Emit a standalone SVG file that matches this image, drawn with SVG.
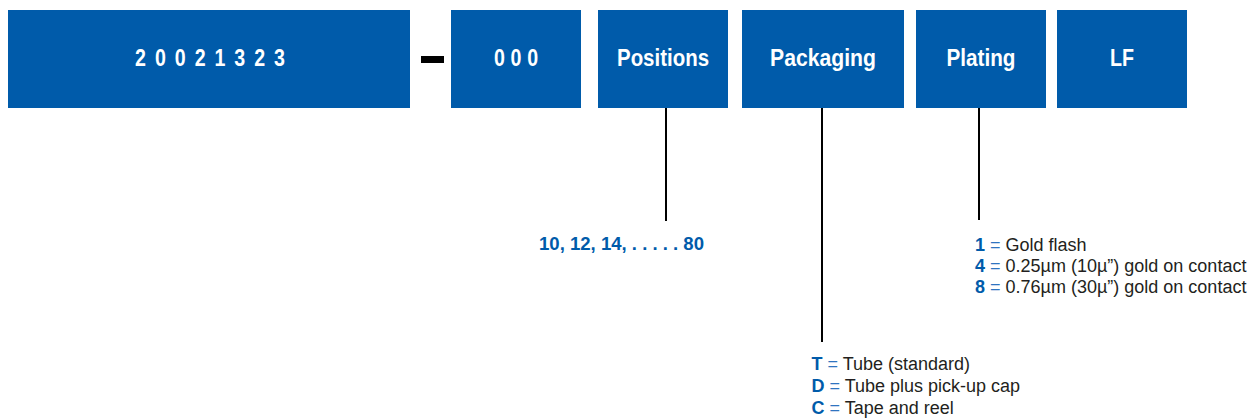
<svg xmlns="http://www.w3.org/2000/svg" width="1251" height="418" viewBox="0 0 1251 418">
  <style>
    .box { fill: #005BAA; }
    .bx { font-family: "Liberation Sans", Arial, sans-serif; font-weight: bold; font-size: 24.5px; fill: #ffffff; }
    .conn { stroke: #000000; stroke-width: 2; fill: none; }
    .lg { font-family: "Liberation Sans", Arial, sans-serif; font-size: 18px; fill: #231F20; }
    .key { font-weight: bold; fill: #005BAA; }
    .eq { fill: #2F74C0; }
    .pos { font-family: "Liberation Sans", Arial, sans-serif; font-size: 18.5px; font-weight: bold; fill: #005BAA; }
  </style>
  <g id="node-part">
    <rect class="box" x="8" y="10" width="402" height="98"/>
    <text class="bx" transform="translate(210 66) scale(0.8 1)" x="5.6" text-anchor="middle" letter-spacing="11.2">20021323</text>
  </g>
  <g id="dash">
    <rect x="421" y="56" width="23" height="7" fill="#000000"/>
  </g>
  <g id="node-000">
    <rect class="box" x="451" y="10" width="130" height="98"/>
    <text class="bx" transform="translate(516 66) scale(0.8 1)" x="3.6" text-anchor="middle" letter-spacing="7.2">000</text>
  </g>
  <g id="node-positions">
    <rect class="box" x="598" y="10" width="130" height="98"/>
    <text class="bx" x="663" y="66" text-anchor="middle" textLength="92" lengthAdjust="spacingAndGlyphs">Positions</text>
  </g>
  <g id="node-packaging">
    <rect class="box" x="742" y="10" width="162" height="98"/>
    <text class="bx" x="823" y="66" text-anchor="middle" textLength="106" lengthAdjust="spacingAndGlyphs">Packaging</text>
  </g>
  <g id="node-plating">
    <rect class="box" x="916" y="10" width="130" height="98"/>
    <text class="bx" x="981" y="66" text-anchor="middle" textLength="69" lengthAdjust="spacingAndGlyphs">Plating</text>
  </g>
  <g id="node-lf">
    <rect class="box" x="1057" y="10" width="130" height="98"/>
    <text class="bx" x="1122" y="66" text-anchor="middle" textLength="24" lengthAdjust="spacingAndGlyphs">LF</text>
  </g>
  <g id="connectors">
    <line class="conn" x1="666" y1="108" x2="666" y2="221"/>
    <line class="conn" x1="822" y1="108" x2="822" y2="342"/>
    <line class="conn" x1="979" y1="108" x2="979" y2="220"/>
  </g>
  <g id="positions-legend">
    <text class="pos" x="539" y="250" textLength="165" lengthAdjust="spacingAndGlyphs">10, 12, 14, . . . . . 80</text>
  </g>
  <g id="plating-legend">
    <text class="lg" x="975" y="251"><tspan class="key">1</tspan><tspan class="eq"> = </tspan>Gold flash</text>
    <text class="lg" x="975" y="272"><tspan class="key">4</tspan><tspan class="eq"> = </tspan>0.25µm (10µ”) gold on contact</text>
    <text class="lg" x="975" y="293"><tspan class="key">8</tspan><tspan class="eq"> = </tspan>0.76µm (30µ”) gold on contact</text>
  </g>
  <g id="packaging-legend">
    <text class="lg" x="811.5" y="370"><tspan class="key">T</tspan><tspan class="eq"> = </tspan>Tube (standard)</text>
    <text class="lg" x="811.5" y="392"><tspan class="key">D</tspan><tspan class="eq"> = </tspan>Tube plus pick-up cap</text>
    <text class="lg" x="811.5" y="414"><tspan class="key">C</tspan><tspan class="eq"> = </tspan>Tape and reel</text>
  </g>
</svg>
